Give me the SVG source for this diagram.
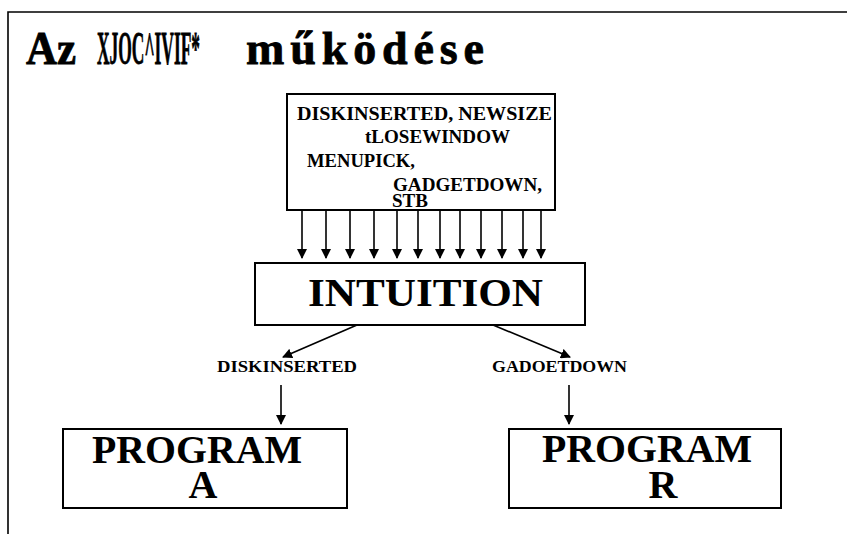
<svg xmlns="http://www.w3.org/2000/svg" width="847" height="534" viewBox="0 0 847 534">
<style>
.t{font-family:"Liberation Serif","Times New Roman",serif;font-weight:bold;fill:#000}
.h{stroke:#000;stroke-width:0.8}
.box{fill:#fff;stroke:#000;stroke-width:2}
.ln{stroke:#000;stroke-width:1.6;fill:none}
</style>
<defs>
<marker id="ah" viewBox="0 0 10 10" refX="9" refY="5" markerWidth="10" markerHeight="10" markerUnits="userSpaceOnUse" orient="auto">
<path d="M0,0 L10,5 L0,10 Z" fill="#000"/>
</marker>
</defs>
<rect width="847" height="534" fill="#fff"/>
<g id="frame">
<path d="M8,534 L8,12 L847,12" class="ln" stroke-width="2"/>
</g>
<g id="title">
<text class="t h" x="26" y="64" font-size="46" textLength="50" lengthAdjust="spacingAndGlyphs">Az</text>
<text class="t h" x="97" y="64" font-size="46" textLength="103" lengthAdjust="spacingAndGlyphs">XJOC^IVIF*</text>
<text class="t h" x="246" y="64" font-size="46" textLength="238" lengthAdjust="spacing">működése</text>
</g>
<g id="events">
<rect class="box" x="287" y="94" width="268" height="116"/>
<text class="t" x="297" y="120" font-size="18" textLength="255" lengthAdjust="spacingAndGlyphs">DISKINSERTED,   NEWSIZE</text>
<text class="t" x="365" y="143" font-size="18" textLength="145" lengthAdjust="spacingAndGlyphs">tLOSEWINDOW</text>
<text class="t" x="307" y="167" font-size="18" textLength="108" lengthAdjust="spacingAndGlyphs">MENUPICK,</text>
<text class="t" x="393" y="191" font-size="18" textLength="149" lengthAdjust="spacingAndGlyphs">GADGETDOWN,</text>
<text class="t" x="392" y="207" font-size="18" textLength="36" lengthAdjust="spacingAndGlyphs">STB</text>
</g>
<g id="intuition">
<rect class="box" x="255" y="263" width="330" height="62"/>
<text class="t" x="308" y="306" font-size="40" textLength="235" lengthAdjust="spacingAndGlyphs">INTUITION</text>
</g>
<g id="programA">
<rect class="box" x="63" y="429" width="284" height="79"/>
<text class="t" x="92" y="463" font-size="40" textLength="210" lengthAdjust="spacingAndGlyphs">PROGRAM</text>
<text class="t" x="203" y="498" font-size="40" text-anchor="middle">A</text>
</g>
<g id="programR">
<rect class="box" x="509" y="429" width="272" height="79"/>
<text class="t" x="542" y="462" font-size="40" textLength="210" lengthAdjust="spacingAndGlyphs">PROGRAM</text>
<text class="t" x="663" y="498" font-size="40" text-anchor="middle">R</text>
</g>
<g id="connectors">
<g class="ln" marker-end="url(#ah)">
<line x1="302" y1="210" x2="302" y2="258"/>
<line x1="326" y1="210" x2="326" y2="258"/>
<line x1="350" y1="210" x2="350" y2="258"/>
<line x1="374" y1="210" x2="374" y2="258"/>
<line x1="397" y1="210" x2="397" y2="258"/>
<line x1="418" y1="210" x2="418" y2="258"/>
<line x1="440" y1="210" x2="440" y2="258"/>
<line x1="460" y1="210" x2="460" y2="258"/>
<line x1="481" y1="210" x2="481" y2="258"/>
<line x1="502" y1="210" x2="502" y2="258"/>
<line x1="523" y1="210" x2="523" y2="258"/>
<line x1="541" y1="210" x2="541" y2="258"/>
<line x1="357" y1="325" x2="283" y2="357"/>
<line x1="493" y1="325" x2="570" y2="357"/>
<line x1="281" y1="385" x2="281" y2="424"/>
<line x1="569" y1="385" x2="569" y2="424"/>
</g>
<text class="t" x="217" y="372" font-size="16" textLength="140" lengthAdjust="spacingAndGlyphs">DISKINSERTED</text>
<text class="t" x="492" y="372" font-size="16" textLength="135" lengthAdjust="spacingAndGlyphs">GADOETDOWN</text>
</g>
</svg>
